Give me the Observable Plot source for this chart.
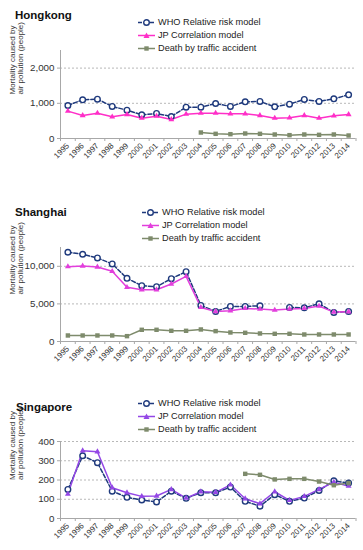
<!DOCTYPE html>
<html><head><meta charset="utf-8">
<script src="https://cdn.jsdelivr.net/npm/d3@7"></script>
<script src="https://cdn.jsdelivr.net/npm/@observablehq/plot@0.6"></script>
<style>
body{margin:0;background:#fff;font-family:"Liberation Sans",Arial,sans-serif;}
#root{position:relative;width:363px;height:550px;overflow:hidden;}
.title{position:absolute;font-weight:bold;font-size:11.5px;color:#111;line-height:12px;}
.legend{position:absolute;font-size:9.2px;color:#222;}
.legend .row{display:flex;align-items:center;height:13px;white-space:nowrap;}
.legend svg{margin-right:3px;display:block;}
.chart{position:absolute;left:0;}
</style></head><body><div id="root"></div>
<script>
const years = [1995,1996,1997,1998,1999,2000,2001,2002,2003,2004,2005,2006,2007,2008,2009,2010,2011,2012,2013,2014];
const seriesNames = ["WHO Relative risk model","JP Correlation model","Death by traffic accident"];
const yLabel = "Mortality caused by\nair pollution (people)";

const hkWHO = [938,1100,1118,910,805,673,711,625,891,891,995,910,1043,1052,900,976,1109,1052,1128,1242];
const hkJP  = [777,654,720,616,682,578,635,540,692,720,720,701,701,654,578,588,654,578,645,682];
const hkTraffic = [null,null,null,null,null,null,null,null,null,170,133,123,142,133,114,95,114,104,114,85];
const hkTicks = [0,1000,2000];
const hkMax = 2500;

const shWHO = [11867,11600,11111,10311,8400,7422,7289,8356,9289,4800,4000,4667,4667,4756,null,4533,4489,5022,3867,4000];
const shJP  = [9956,10044,9911,9333,7200,6889,6889,7644,8667,4533,4000,4089,4400,4311,4178,4311,4400,4711,3911,3956];
const shTraffic = [800,800,800,800,711,1556,1556,1422,1422,1600,1378,1200,1156,1067,1022,1022,933,933,933,933];
const shTicks = [0,5000,10000];
const shMax = 12500;

const sgWHO = [151,326,290,142,110,96,86,142,105,134,134,163,89,64,124,89,106,146,196,184];
const sgJP  = [127,352,347,160,134,115,117,151,106,139,136,175,103,77,139,94,115,151,189,168];
const sgTraffic = [null,null,null,null,null,null,null,null,null,null,null,null,232,227,203,206,206,192,173,184];
const sgTicks = [0,100,200,300,400];
const sgMax = 400;

const WHO_COLOR = "#1f3a7d";
const TRAFFIC_COLOR = "#7e8b6c";

const panels = [
  {name:"Hongkong", who:hkWHO, jp:hkJP, traffic:hkTraffic, ticks:hkTicks, max:hkMax, jpColor:"#ff2fc8",
   titleTop:9, titleLeft:15, legTop:15.5, legLeft:138, svgTop:40, frameH:88},
  {name:"Shanghai", who:shWHO, jp:shJP, traffic:shTraffic, ticks:shTicks, max:shMax, jpColor:"#e23fdc",
   titleTop:206, titleLeft:15, legTop:205.5, legLeft:142, svgTop:237, frameH:94},
  {name:"Singapore", who:sgWHO, jp:sgJP, traffic:sgTraffic, ticks:sgTicks, max:sgMax, jpColor:"#9447e6",
   titleTop:401, titleLeft:16, legTop:396.5, legLeft:138, svgTop:431, frameH:77}
];

const root = document.getElementById("root");
const mT = 10, mB = 32, mL = 60, mR = 7.5;
const xDomain = [years[0]-0.5, years[years.length-1]+0.5];
const bounds = years.map(y => y-0.5).concat([years[years.length-1]+0.5]);

function legendSymbol(kind, color){
  const ns = "http://www.w3.org/2000/svg";
  const s = document.createElementNS(ns,"svg");
  s.setAttribute("width","17"); s.setAttribute("height","9");
  const l = document.createElementNS(ns,"line");
  l.setAttribute("x1","0"); l.setAttribute("x2","17"); l.setAttribute("y1","4.5"); l.setAttribute("y2","4.5");
  l.setAttribute("stroke",color); l.setAttribute("stroke-width","1.5");
  if(kind==="circle") l.setAttribute("stroke-dasharray","4,2");
  s.appendChild(l);
  let m;
  if(kind==="circle"){ m=document.createElementNS(ns,"circle"); m.setAttribute("cx","8.5"); m.setAttribute("cy","4.5"); m.setAttribute("r","2.8"); m.setAttribute("fill","#fff"); m.setAttribute("stroke",color); m.setAttribute("stroke-width","1.4"); }
  else if(kind==="triangle"){ m=document.createElementNS(ns,"path"); m.setAttribute("d","M8.5,1.5L11.5,7L5.5,7Z"); m.setAttribute("fill",color); }
  else { m=document.createElementNS(ns,"rect"); m.setAttribute("x","6.3"); m.setAttribute("y","2.3"); m.setAttribute("width","4.4"); m.setAttribute("height","4.4"); m.setAttribute("fill",color); }
  s.appendChild(m);
  return s;
}

panels.forEach(p => {
  const rows = [];
  years.forEach((yr,i) => {
    rows.push({year:yr, series:seriesNames[0], value:p.who[i]});
    rows.push({year:yr, series:seriesNames[1], value:p.jp[i]});
    rows.push({year:yr, series:seriesNames[2], value:p.traffic[i]});
  });
  const who = rows.filter(d => d.series===seriesNames[0]);
  const jp = rows.filter(d => d.series===seriesNames[1]);
  const tr = rows.filter(d => d.series===seriesNames[2]);
  const grid = p.ticks.filter(t => t>0);
  const chart = Plot.plot({
    width:363, height: mT + p.frameH + mB,
    marginTop:mT, marginBottom:mB, marginLeft:mL, marginRight:mR,
    style:{background:"none", fontFamily:"Liberation Sans, Arial, sans-serif", overflow:"visible"},
    x:{type:"linear", domain:xDomain},
    y:{domain:[0,p.max]},
    marks:[
      Plot.ruleY(grid, {stroke:"#b8b8b8", strokeDasharray:"2,2"}),
      Plot.ruleY([0], {stroke:"#a8a8a8"}),
      Plot.ruleX([xDomain[0]], {stroke:"#a8a8a8"}),
      Plot.axisY({ticks:p.ticks, tickFormat:d3.format(","), tickSize:3, tickPadding:3, fontSize:9.8, label:null, stroke:"#a8a8a8", color:"#333"}),
      Plot.axisX({ticks:bounds, tickSize:3, tickFormat:()=>"", label:null, stroke:"#a8a8a8"}),
      Plot.axisX({ticks:years, tickSize:0, tickPadding:6, tickRotate:-45, tickFormat:d=>String(d), fontSize:8, label:null, color:"#333"}),
      Plot.text([yLabel], {frameAnchor:"left", rotate:-90, dx:-44, fontSize:8, lineHeight:1.05, fill:"#333"}),
      Plot.line(who, {x:"year", y:"value", stroke:WHO_COLOR, strokeWidth:1.5, strokeDasharray:"4,2"}),
      Plot.line(jp, {x:"year", y:"value", stroke:p.jpColor, strokeWidth:1.5}),
      Plot.line(tr, {x:"year", y:"value", stroke:TRAFFIC_COLOR, strokeWidth:1.5}),
      Plot.dot(who, {x:"year", y:"value", r:2.8, stroke:WHO_COLOR, fill:"#fff", strokeWidth:1.4}),
      Plot.dot(jp, {x:"year", y:"value", r:2.2, symbol:"triangle", fill:p.jpColor, stroke:"none"}),
      Plot.dot(tr, {x:"year", y:"value", r:2.5, symbol:"square", fill:TRAFFIC_COLOR, stroke:"none"})
    ]
  });
  const wrap = document.createElement("div");
  wrap.className = "chart"; wrap.style.top = p.svgTop + "px";
  wrap.appendChild(chart);
  root.appendChild(wrap);

  const t = document.createElement("div");
  t.className = "title"; t.textContent = p.name;
  t.style.top = p.titleTop + "px"; t.style.left = p.titleLeft + "px";
  root.appendChild(t);

  const leg = document.createElement("div");
  leg.className = "legend"; leg.style.top = p.legTop + "px"; leg.style.left = p.legLeft + "px";
  const kinds = [["circle",WHO_COLOR],["triangle",p.jpColor],["square",TRAFFIC_COLOR]];
  seriesNames.forEach((n,i) => {
    const r = document.createElement("div"); r.className = "row";
    r.appendChild(legendSymbol(kinds[i][0], kinds[i][1]));
    const sp = document.createElement("span"); sp.textContent = n; r.appendChild(sp);
    leg.appendChild(r);
  });
  root.appendChild(leg);
});
</script></body></html>
